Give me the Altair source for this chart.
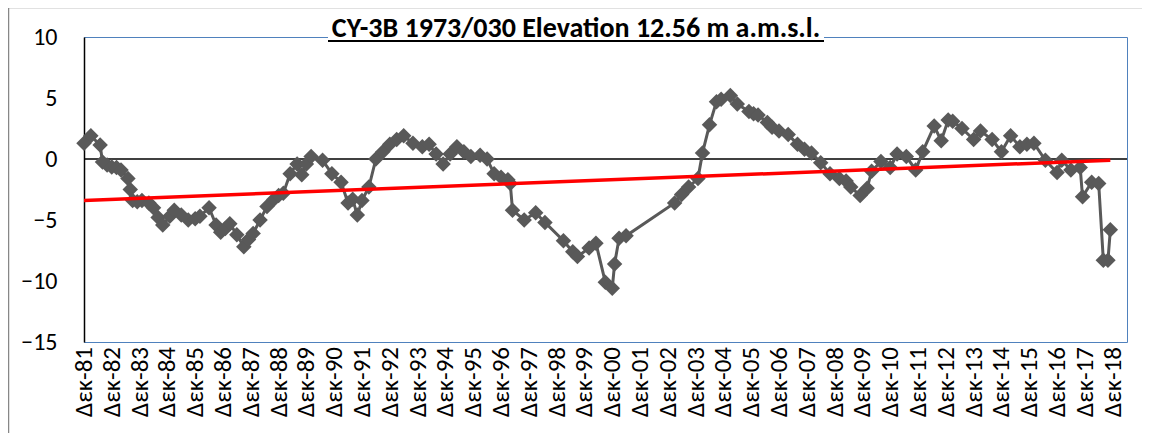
import altair as alt
import pandas as pd

# ---- data ----
dates = [
    "1981-12", "1982-03", "1982-07", "1982-08", "1982-10", "1982-12", "1983-02", "1983-04",
    "1983-07", "1983-08", "1983-09", "1983-11", "1984-01", "1984-04", "1984-06", "1984-08",
    "1984-10", "1985-01", "1985-03", "1985-06", "1985-09", "1985-12", "1986-02", "1986-06",
    "1986-09", "1986-11", "1987-01", "1987-03", "1987-06", "1987-09", "1987-11", "1988-01",
    "1988-04", "1988-07", "1988-10", "1988-12", "1989-02", "1989-05", "1989-08", "1989-10",
    "1989-12", "1990-02", "1990-07", "1990-11", "1991-03", "1991-06", "1991-08", "1991-10",
    "1991-12", "1992-03", "1992-06", "1992-09", "1992-12", "1993-03", "1993-06", "1993-10",
    "1994-02", "1994-05", "1994-08", "1994-11", "1995-02", "1995-05", "1995-08", "1995-11",
    "1996-03", "1996-06", "1996-09", "1996-12", "1997-03", "1997-04", "1997-05", "1997-10",
    "1998-03", "1998-07", "1999-03", "1999-07", "1999-09", "2000-02", "2000-05", "2000-09",
    "2000-12", "2001-01", "2001-03", "2001-06", "2003-03", "2003-06", "2003-09", "2004-01",
    "2004-03", "2004-06", "2004-09", "2004-11", "2005-03", "2005-06", "2005-11", "2006-01",
    "2006-03", "2006-07", "2006-09", "2006-12", "2007-04", "2007-08", "2007-11", "2008-02",
    "2008-06", "2008-10", "2009-02", "2009-05", "2009-07", "2009-11", "2010-02", "2010-04",
    "2010-08", "2010-12", "2011-03", "2011-07", "2011-11", "2012-02", "2012-07", "2012-10",
    "2013-01", "2013-03", "2013-07", "2013-12", "2014-03", "2014-08", "2014-12", "2015-04",
    "2015-08", "2015-11", "2016-02", "2016-07", "2016-12", "2017-02", "2017-06", "2017-10",
    "2017-11", "2018-03", "2018-06", "2018-08", "2018-10", "2018-11",
]
levels = [
    1.3, 1.9, 1.15, -0.25, -0.5, -0.65, -0.7, -0.9,
    -1.6, -2.5, -3.4, -3.5, -3.4, -3.6, -4.0, -4.8,
    -5.4, -4.7, -4.2, -4.6, -5.0, -4.9, -4.7, -4.0,
    -5.4, -6.0, -5.7, -5.3, -6.2, -7.2, -6.6, -6.1,
    -5.0, -3.9, -3.3, -3.0, -2.8, -1.2, -0.4, -1.3,
    -0.4, 0.2, -0.1, -1.2, -1.9, -3.6, -3.3, -4.6,
    -3.4, -2.3, 0.0, 0.6, 1.2, 1.6, 1.9, 1.3,
    1.0, 1.2, 0.4, -0.4, 0.4, 1.0, 0.6, 0.2,
    0.3, 0.0, -1.2, -1.5, -1.7, -2.0, -4.2, -5.0,
    -4.4, -5.2, -6.7, -7.6, -8.0, -7.3, -6.9, -10.1,
    -10.6, -8.6, -6.5, -6.3, -3.6, -2.9, -2.3, -1.6,
    0.5, 2.8, 4.7, 4.9, 5.2, 4.5, 3.9, 3.7,
    3.6, 3.0, 2.6, 2.3, 2.0, 1.2, 0.8, 0.5,
    -0.3, -1.2, -1.6, -1.8, -2.3, -3.0, -2.4, -1.0,
    -0.2, -0.7, 0.4, 0.2, -0.9, 0.6, 2.7, 1.5,
    3.2, 3.1, 2.5, 1.6, 2.3, 1.6, 0.6, 1.9,
    1.0, 1.2, 1.3, -0.1, -1.1, -0.1, -0.9, -0.7,
    -3.1, -1.9, -2.0, -8.3, -8.3, -5.8,
]
trend_dates = ["1981-12", "2018-11"]
trend_levels = [-3.4, -0.1]
label_years = list(range(1981, 2019))
y_ticks = [-15, -10, -5, 0, 5, 10]
title_text = "CY-3B 1973/030 Elevation 12.56 m a.m.s.l."

# ---- tables ----
series = pd.DataFrame({"date": [d + "-01" for d in dates], "level": levels})
trend = pd.DataFrame({"date": [d + "-01" for d in trend_dates], "level": trend_levels})
zero = pd.DataFrame({"level": [0]})
one = pd.DataFrame({"t": [title_text]})
labels = pd.DataFrame({
    "date": [f"{y}-12-01" for y in label_years],
    "label": [f"Δεκ-{y % 100:02d}" for y in label_years],
})


def ms(s):
    return int(pd.Timestamp(s, tz="UTC").value // 10**6)


W, H = 1043, 305
FONT = "Carlito, Calibri, Lato, sans-serif"
GRAY = "#595959"

x_scale = alt.Scale(type="utc", domain=[ms("1981-12-01"), ms("2019-06-08")])
y_scale = alt.Scale(domain=[-15, 10], nice=False, zero=False)

y_axis = alt.Axis(
    values=y_ticks,
    labelFont=FONT,
    labelFontSize=24,
    labelColor="black",
    labelPadding=27,
    domain=True,
    domainColor="black",
    domainWidth=1.5,
    ticks=False,
    grid=False,
    title=None,
)

base = alt.Chart(series)

zero_line = alt.Chart(zero).mark_rule(color="black", strokeWidth=1.5).encode(
    y=alt.Y("level:Q", scale=y_scale, axis=y_axis)
)

line = base.mark_line(color=GRAY, strokeWidth=3).encode(
    x=alt.X("date:T", scale=x_scale, axis=None),
    y=alt.Y("level:Q", scale=y_scale),
)

points = base.mark_point(
    shape="diamond", filled=True, size=240, color=GRAY, opacity=1
).encode(
    x=alt.X("date:T", scale=x_scale, axis=None),
    y=alt.Y("level:Q", scale=y_scale),
)

trend_line = alt.Chart(trend).mark_line(color="#FF0000", strokeWidth=3.5).encode(
    x=alt.X("date:T", scale=x_scale, axis=None),
    y=alt.Y("level:Q", scale=y_scale),
)

x_labels = alt.Chart(labels).mark_text(
    font=FONT, fontSize=25, color="black", angle=270,
    align="right", baseline="middle",
).encode(
    x=alt.X("date:T", scale=x_scale, axis=None),
    y=alt.value(H + 5),
    text="label:N",
)

title_bg = alt.Chart(one).mark_rect(color="white").encode(
    x=alt.value(244), x2=alt.value(740), y=alt.value(-26), y2=alt.value(2)
)
title_mark = alt.Chart(one).mark_text(
    font=FONT, fontSize=28, fontWeight="bold", color="black",
    align="center", baseline="alphabetic",
).encode(x=alt.value(492), y=alt.value(0), text="t:N")
underline = alt.Chart(one).mark_rule(color="black", strokeWidth=2).encode(
    x=alt.value(244), x2=alt.value(740), y=alt.value(4)
)
frame = alt.Chart(one).mark_rect(
    filled=False, stroke="#878787", strokeWidth=1.5
).encode(
    x=alt.value(-75.5), x2=alt.value(1062.5), y=alt.value(-29.5), y2=alt.value(500)
)

chart = (
    alt.layer(zero_line, line, points, trend_line, x_labels,
              title_bg, title_mark, underline, frame)
    .properties(
        width=W,
        height=H,
        autosize=alt.AutoSizeParams(type="none"),
        padding={"left": 76, "top": 29, "right": 15, "bottom": 100},
        background="white",
    )
    .configure_view(stroke="#4F81BD", strokeWidth=1)
)

chart.save("out.html", embed_options={"renderer": "svg", "actions": False})
